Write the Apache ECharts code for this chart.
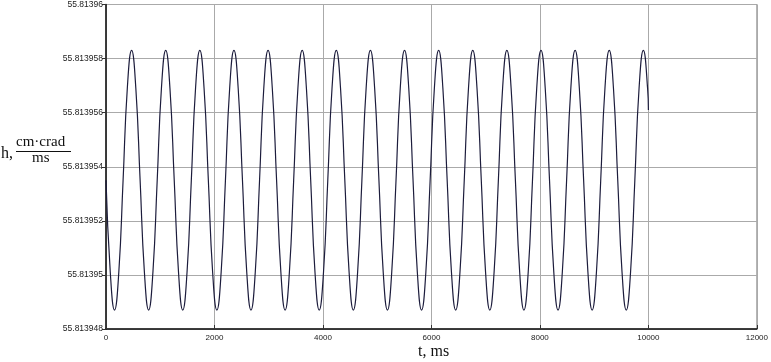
<!DOCTYPE html>
<html><head><meta charset="utf-8">
<script src="https://cdn.jsdelivr.net/npm/echarts@6/dist/echarts.min.js"></script>
<style>html,body{margin:0;padding:0;background:#fff}#c{width:771px;height:362px}</style>
</head><body><div id="c"></div>
<script>
// sample times (ms), eight readings per oscillation
const tSamples = [
0,79,157,236,315,393,472,550,
629,708,786,865,944,1022,1101,1179,
1258,1337,1415,1494,1573,1651,1730,1808,
1887,1966,2044,2123,2202,2280,2359,2437,
2516,2595,2673,2752,2831,2909,2988,3066,
3145,3224,3302,3381,3460,3538,3617,3695,
3774,3853,3931,4010,4089,4167,4246,4324,
4403,4482,4560,4639,4718,4796,4875,4953,
5032,5111,5189,5268,5347,5425,5504,5582,
5661,5740,5818,5897,5976,6054,6133,6211,
6290,6369,6447,6526,6605,6683,6762,6840,
6919,6998,7076,7155,7234,7312,7391,7469,
7548,7627,7705,7784,7863,7941,8020,8098,
8177,8256,8334,8413,8492,8570,8649,8727,
8806,8885,8963,9042,9121,9199,9278,9356,
9435,9514,9592,9671,9750,9828,9907,9985,
10000];
// h values read at those times
const hValues = [
55.8139535,55.8139501,55.8139487,55.8139501,55.8139535,55.8139569,55.8139583,55.8139569,
55.8139535,55.8139501,55.8139487,55.8139501,55.8139535,55.8139569,55.8139583,55.8139569,
55.8139535,55.8139501,55.8139487,55.8139501,55.8139535,55.8139569,55.8139583,55.8139569,
55.8139535,55.8139501,55.8139487,55.8139501,55.8139535,55.8139569,55.8139583,55.8139569,
55.8139535,55.8139501,55.8139487,55.8139501,55.8139535,55.8139569,55.8139583,55.8139569,
55.8139535,55.8139501,55.8139487,55.8139501,55.8139535,55.8139569,55.8139583,55.8139569,
55.8139535,55.8139501,55.8139487,55.8139501,55.8139535,55.8139569,55.8139583,55.8139569,
55.8139535,55.8139501,55.8139487,55.8139501,55.8139535,55.8139569,55.8139583,55.8139569,
55.8139535,55.8139501,55.8139487,55.8139501,55.8139535,55.8139569,55.8139583,55.8139569,
55.8139535,55.8139501,55.8139487,55.8139501,55.8139535,55.8139569,55.8139583,55.8139569,
55.8139535,55.8139501,55.8139487,55.8139501,55.8139535,55.8139569,55.8139583,55.8139569,
55.8139535,55.8139501,55.8139487,55.8139501,55.8139535,55.8139569,55.8139583,55.8139569,
55.8139535,55.8139501,55.8139487,55.8139501,55.8139535,55.8139569,55.8139583,55.8139569,
55.8139535,55.8139501,55.8139487,55.8139501,55.8139535,55.8139569,55.8139583,55.8139569,
55.8139535,55.8139501,55.8139487,55.8139501,55.8139535,55.8139569,55.8139583,55.8139569,
55.8139535,55.8139501,55.8139487,55.8139501,55.8139535,55.8139569,55.8139583,55.8139569,
55.8139561];
const yTickLabels = ['55.813948','55.81395','55.813952','55.813954','55.813956','55.813958','55.81396'];
const xTickLabels = ['0','2000','4000','6000','8000','10000','12000'];

const data = tSamples.map((t,i)=>[t,hValues[i]]);
const chart = echarts.init(document.getElementById('c'), null, {renderer:'canvas'});
chart.setOption({
  animation:false,
  grid:{left:106,right:11,top:3,bottom:33,show:true,borderColor:'#888',borderWidth:1},
  xAxis:{type:'value',min:0,max:12000,interval:2000,
    axisLine:{show:true,lineStyle:{color:'#111',width:1.5}},
    axisTick:{show:true,length:4,inside:true,lineStyle:{color:'#333'}},
    axisLabel:{fontFamily:'Liberation Sans, Arial',fontSize:8,color:'#222',margin:5,
      formatter:(v,i)=>xTickLabels[i]},
    splitLine:{show:true,lineStyle:{color:'#aaa',width:1}}},
  yAxis:{type:'value',min:55.813948,max:55.81396,interval:0.000002,
    axisLine:{show:true,lineStyle:{color:'#111',width:1.5}},
    axisTick:{show:true,length:4,lineStyle:{color:'#333'}},
    axisLabel:{fontFamily:'Liberation Sans, Arial',fontSize:8.5,color:'#222',margin:3,
      formatter:(v,i)=>yTickLabels[i]},
    splitLine:{show:true,lineStyle:{color:'#aaa',width:1}}},
  graphic:[
    {type:'text',left:418,top:344,style:{text:'t, ms',font:'16px "Liberation Serif", "Times New Roman", serif',fill:'#111'}},
    {type:'text',left:1,top:146,style:{text:'h,',font:'16px "Liberation Serif", "Times New Roman", serif',fill:'#111'}},
    {type:'text',left:16,top:135,style:{text:'cm·crad',font:'15px "Liberation Serif", "Times New Roman", serif',fill:'#111'}},
    {type:'line',shape:{x1:16,y1:151.5,x2:71,y2:151.5},style:{stroke:'#111',lineWidth:1.2}},
    {type:'text',left:32,top:151,style:{text:'ms',font:'15px "Liberation Serif", "Times New Roman", serif',fill:'#111'}}
  ],
  series:[{type:'line',data:data,smooth:0.5,showSymbol:false,
    lineStyle:{color:'#1c1c3c',width:1.2}}]
});
</script></body></html>
